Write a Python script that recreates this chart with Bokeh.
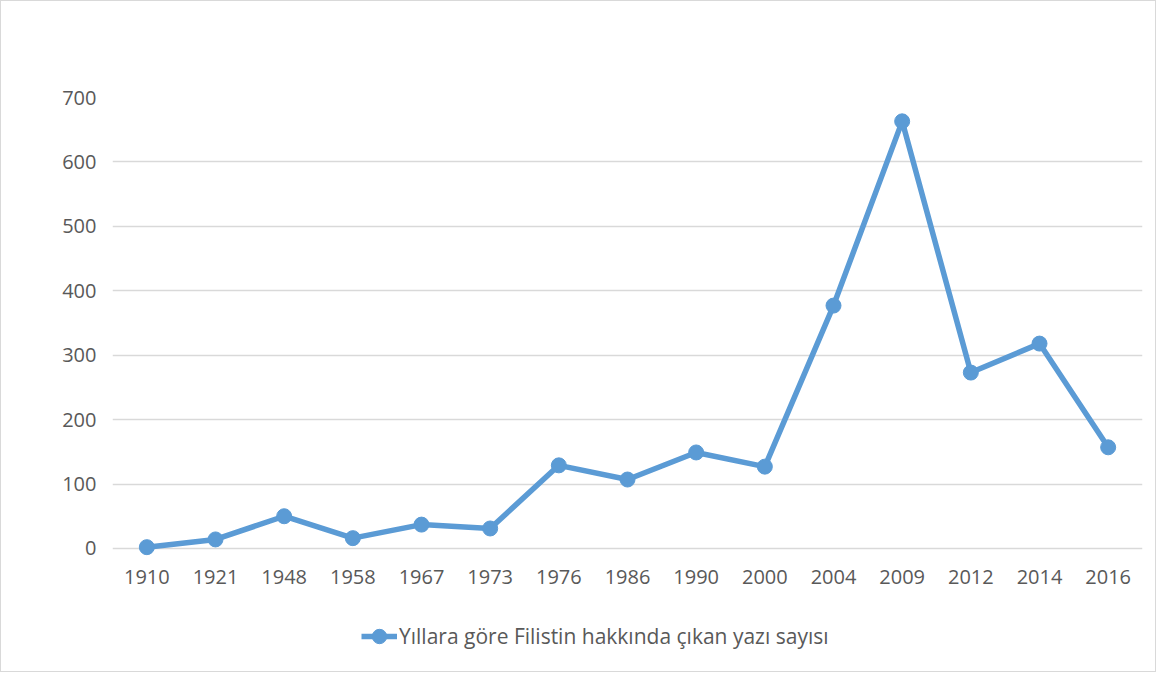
from bokeh.plotting import figure
from bokeh.models import FixedTicker, Range1d, FactorRange, Legend, LegendItem, ColumnDataSource
from bokeh.embed import file_html
from bokeh.resources import INLINE

years = ["1910", "1921", "1948", "1958", "1967", "1973", "1976", "1986",
         "1990", "2000", "2004", "2009", "2012", "2014", "2016"]
counts = [2, 14, 50, 16, 37, 31, 129, 107, 149, 127, 377, 663, 273, 318, 157]
series_name = "Yıllara göre Filistin hakkında çıkan yazı sayısı"
y_ticks = [0, 100, 200, 300, 400, 500, 600, 700]

BLUE = "#5B9BD5"
TXT = "#595959"
FONT = "Open Sans"

src = ColumnDataSource(dict(x=years, y=counts))

# frame extends below zero so the legend can sit inside it; x axis pinned at y=0
p = figure(width=1156, height=672, x_range=FactorRange(*years), y_range=Range1d(-191, 700),
           output_backend="svg", toolbar_location=None,
           min_border_left=111, min_border_right=15, min_border_top=96, min_border_bottom=2)
p.x_range.range_padding = 0
p.outline_line_color = None
p.styles = {"border": "1px solid #d9d9d9", "box-sizing": "border-box"}

ln = p.line("x", "y", source=src, line_color=BLUE, line_width=5.5)
sc = p.scatter("x", "y", source=src, size=15, fill_color=BLUE, line_color=BLUE)

p.yaxis.ticker = FixedTicker(ticks=y_ticks)
p.xaxis.fixed_location = 0
for ax in (p.xaxis[0], p.yaxis[0]):
    ax.axis_line_color = None
    ax.major_tick_line_color = None
    ax.minor_tick_line_color = None
    ax.major_label_text_color = TXT
    ax.major_label_text_font = FONT
    ax.major_label_text_font_size = "20px"
p.yaxis.major_label_standoff = 10
p.xaxis.major_label_standoff = 16

p.xgrid.grid_line_color = None
p.ygrid.grid_line_color = "#d9d9d9"
p.ygrid.grid_line_width = 1.5

legend = Legend(items=[LegendItem(label=series_name, renderers=[ln, sc])],
                location=(249, 15), orientation="horizontal",
                border_line_alpha=0, background_fill_alpha=0,
                padding=0, margin=0, glyph_width=36, glyph_height=40,
                label_standoff=2, label_text_font=FONT, label_text_font_size="21px",
                label_text_color=TXT)
p.add_layout(legend, "center")

open("out.html", "w").write(file_html(p, INLINE))
